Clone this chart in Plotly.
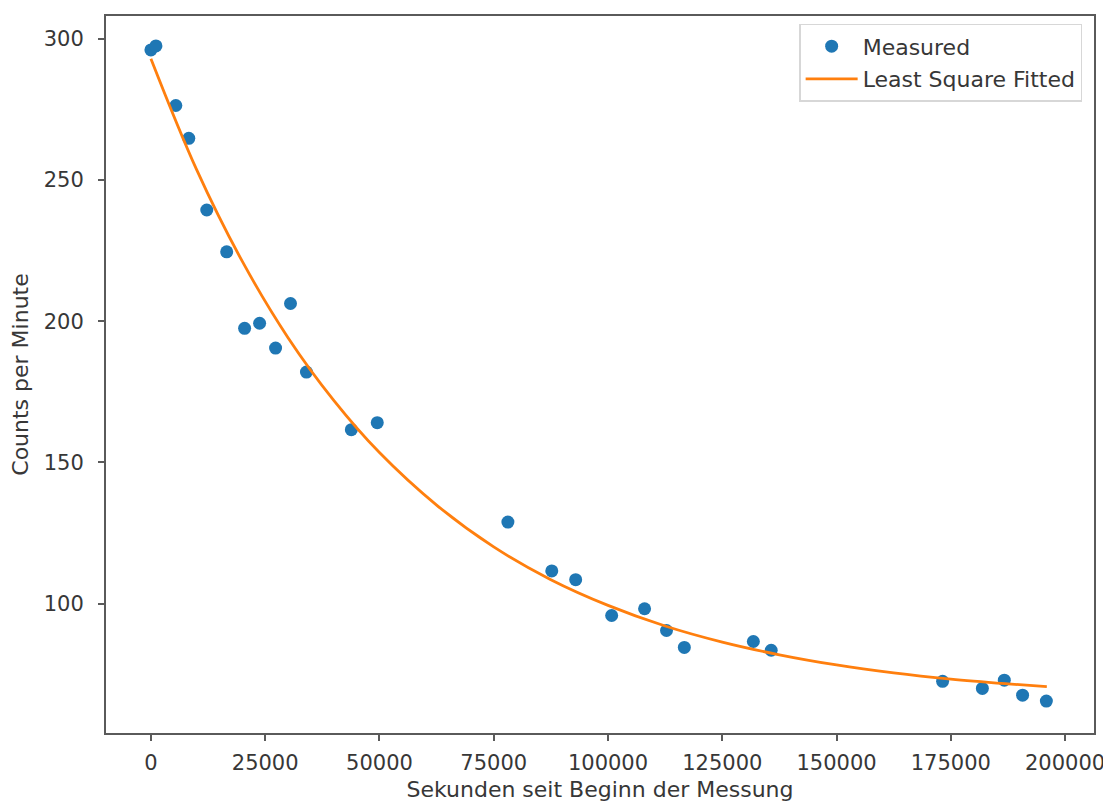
import plotly.graph_objects as go

# Measured data (seconds since start, counts per minute)
measured_t = [0, 1100, 5450, 8290, 12220, 16580, 20500, 23780, 27270, 30540,
              34030, 43850, 49520, 78100, 87700, 92930, 100800, 108000, 112800,
              116700, 131800, 135700, 173200, 181900, 186700, 190700, 195900]
measured_c = [296.1, 297.5, 276.4, 264.8, 239.4, 224.6, 197.5, 199.3, 190.5, 206.3,
              182.0, 161.6, 164.1, 128.9, 111.6, 108.5, 95.8, 98.2, 90.5,
              84.5, 86.6, 83.5, 72.5, 70.0, 72.9, 67.6, 65.5]

# Fitted curve
fit_t = [0, 10000, 20000, 30000, 40000, 50000, 62500, 75000, 87500, 100000,
         112500, 125000, 137500, 150000, 162500, 175000, 187500, 196000]
fit_c = [293.0, 253.7, 221.2, 194.2, 172.0, 153.5, 134.9, 120.1, 108.5, 99.4,
         92.1, 86.4, 81.9, 78.3, 75.5, 73.3, 71.6, 70.6]

x_ticks = [0, 25000, 50000, 75000, 100000, 125000, 150000, 175000, 200000]
y_ticks = [100, 150, 200, 250, 300]

font_family = "DejaVu Sans"
axis_color = "rgb(90,90,90)"
text_color = "rgb(55,55,55)"
fs = 21
fs_title = 22

fig = go.Figure()
fig.add_trace(go.Scatter(
    x=measured_t, y=measured_c, mode="markers", name="Measured",
    legendgroup="m",
    marker=dict(color="#1f77b4", size=13, line=dict(width=0)),
))
fig.add_trace(go.Scatter(
    x=fit_t, y=fit_c, mode="lines", name="Least Square Fitted",
    legendgroup="f",
    line=dict(color="#ff7f0e", width=2.8, shape="spline"),
))

fig.update_layout(
    width=1103, height=796,
    margin=dict(l=98, r=14, t=6, b=69),
    paper_bgcolor="white", plot_bgcolor="white",
    font=dict(family=font_family, size=fs, color=text_color),
    showlegend=True,
    legend=dict(
        x=0.988, y=0.989, xanchor="right", yanchor="top",
        bgcolor="white", bordercolor="rgb(215,215,215)", borderwidth=1.5,
        font=dict(size=fs_title, color=text_color),
        tracegroupgap=1, itemwidth=52,
    ),
)
fig.update_xaxes(
    range=[-9825, 206325],
    tickvals=x_ticks, ticktext=[str(v) for v in x_ticks],
    showline=True, mirror=True, linecolor=axis_color, linewidth=2,
    ticks="outside", ticklen=6, tickwidth=1.5, tickcolor=axis_color,
    ticklabelstandoff=4,
    showgrid=False, zeroline=False,
    title=dict(text="Sekunden seit Beginn der Messung", standoff=7,
               font=dict(size=fs_title, color=text_color)),
    tickfont=dict(size=fs, color=text_color),
)
fig.update_yaxes(
    range=[54.2, 308.1],
    tickvals=y_ticks, ticktext=[str(v) for v in y_ticks],
    showline=True, mirror=True, linecolor=axis_color, linewidth=2,
    ticks="outside", ticklen=6, tickwidth=1.5, tickcolor=axis_color,
    ticklabelstandoff=10,
    showgrid=False, zeroline=False,
    title=dict(text="Counts per Minute", standoff=13,
               font=dict(size=fs_title, color=text_color)),
    tickfont=dict(size=fs, color=text_color),
)

fig.write_html("out.html")
